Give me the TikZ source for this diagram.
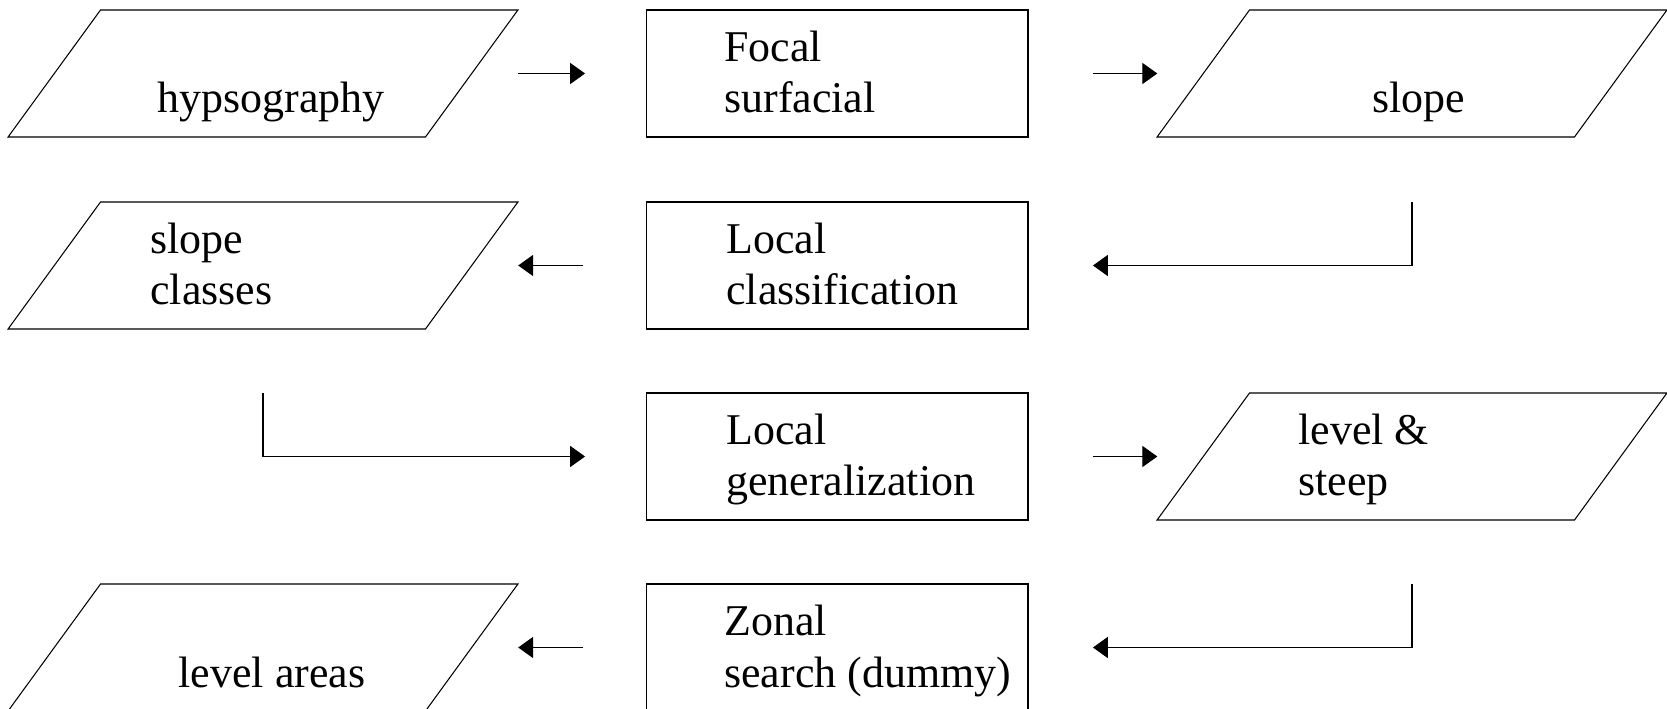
\documentclass[tikz,border=0pt]{standalone}
\usepackage{fontspec}
\setmainfont{Liberation Serif}
\usetikzlibrary{arrows.meta}

\begin{document}
\begin{tikzpicture}[x=0.02cm,y=-0.02cm,
  procbox/.style={draw,line width=0.6pt,minimum width=7.64cm,minimum height=2.54cm,inner sep=0pt,outer sep=0pt},
  databox/.style={draw,line width=0.6pt,minimum width=8.35cm,minimum height=2.54cm,inner sep=0pt,outer sep=0pt,
    xslant=0.728,transform shape},
  lbl/.style={inner sep=0pt,align=left,font=\fontsize{25}{29.5}\selectfont},
  flow/.style={line width=0.7pt,-{Triangle[length=8.5pt,width=12pt]}}]
%
\useasboundingbox (0,0) rectangle (1667,709);
%
% shapes, row by row
\node[databox] (hyps)    at (263,73.5)  {};
\node[procbox] (focal)   at (837,73.5)  {};
\node[databox] (slope)   at (1412,73.5) {};
\node[databox] (slopecl) at (263,265.5) {};
\node[procbox] (classif) at (837,265.5) {};
\node[procbox] (general) at (837,456.5) {};
\node[databox] (levst)   at (1412,456.5) {};
\node[databox] (levar)   at (263,647.5) {};
\node[procbox] (zonal)   at (837,647.5) {};
%
% texts (base = baseline of the last line)
\node[lbl,anchor=base] (hypsT) at (271,113) {hypsography};
\node[lbl,anchor=base west] (focalT) at (724,113) {Focal\\surfacial};
\node[lbl,anchor=base] (slopeT) at (1419,113) {slope};
\node[lbl,anchor=base west] (slopeclT) at (150,305) {slope\\classes};
\node[lbl,anchor=base west] (classifT) at (726,305) {Local\\classification};
\node[lbl,anchor=base west] (generalT) at (726,496) {Local\\generalization};
\node[lbl,anchor=base west] (levstT) at (1298,496) {level \&\\steep};
\node[lbl,anchor=base west] (zonalT) at (724,687) {Zonal\\search (dummy)};
\node[lbl,anchor=base] (levarT) at (272,687) {level areas};
%
% connectors
\draw[flow,shorten <=0.93cm,shorten >=1.22cm] (hyps) -- (focal);
\draw[flow,shorten <=1.3cm,shorten >=0.92cm] (focal) -- (slope);
\draw[flow,shorten <=1.3cm,shorten >=1.3cm] (slope) |- (classif);
\draw[flow,shorten <=1.26cm,shorten >=0.93cm] (classif) -- (slopecl);
\draw[flow,shorten <=1.28cm,shorten >=1.22cm] (slopecl) |- (general);
\draw[flow,shorten <=1.3cm,shorten >=0.92cm] (general) -- (levst);
\draw[flow,shorten <=1.28cm,shorten >=1.3cm] (levst) |- (zonal);
\draw[flow,shorten <=1.26cm,shorten >=0.93cm] (zonal) -- (levar);
%
\end{tikzpicture}
\end{document}
